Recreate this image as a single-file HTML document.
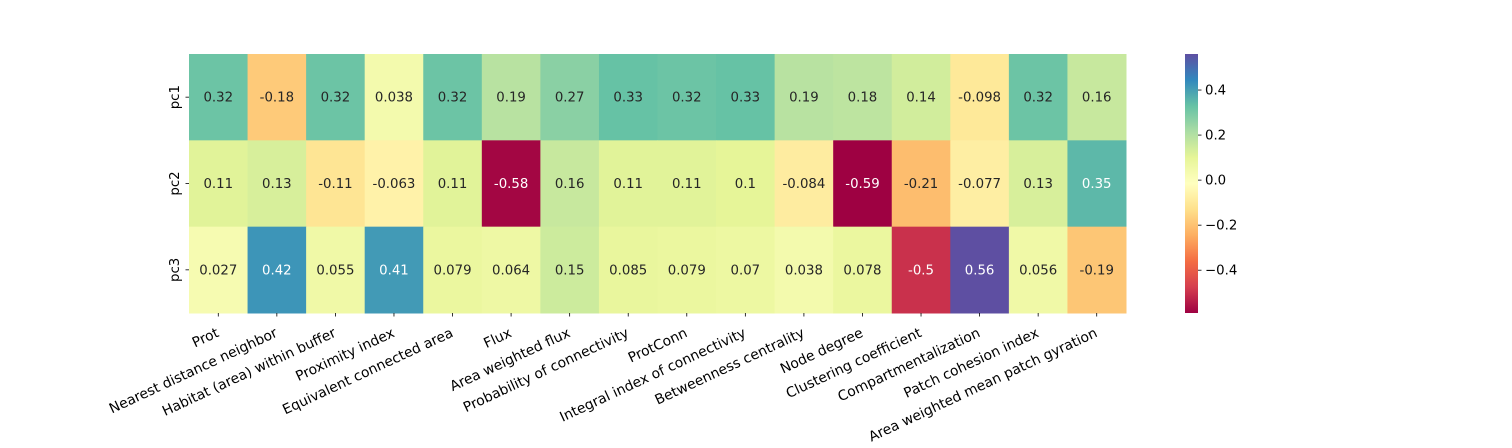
<!DOCTYPE html>
<html><head><meta charset="utf-8"><style>
body{margin:0;background:#fff;}
svg{display:block;font-family:"DejaVu Sans","Liberation Sans",sans-serif;}
</style></head><body>
<svg id="chart" width="1512" height="448"></svg>
<script>
const features = ["Prot","Nearest distance neighbor","Habitat (area) within buffer","Proximity index","Equivalent connected area","Flux","Area weighted flux","Probability of connectivity","ProtConn","Integral index of connectivity","Betweenness centrality","Node degree","Clustering coefficient","Compartmentalization","Patch cohesion index","Area weighted mean patch gyration"];
const components = ["pc1","pc2","pc3"];
const pc1 = [0.32,-0.18,0.32,0.038,0.32,0.19,0.27,0.33,0.32,0.33,0.19,0.18,0.14,-0.098,0.32,0.16];
const pc2 = [0.11,0.13,-0.11,-0.063,0.11,-0.58,0.16,0.11,0.11,0.1,-0.084,-0.59,-0.21,-0.077,0.13,0.35];
const pc3 = [0.027,0.42,0.055,0.41,0.079,0.064,0.15,0.085,0.079,0.07,0.038,0.078,-0.5,0.56,0.056,-0.19];
const cbTicks = [0.4,0.2,0.0,-0.2,-0.4];
const rows = [pc1,pc2,pc3];

const NS="http://www.w3.org/2000/svg";
const svg=document.getElementById('chart');
function mk(t,a){const e=document.createElementNS(NS,t);for(const k in a)e.setAttribute(k,a[k]);return e;}
const X0=189,X1=1126,Y0=54,Y1=313;
const cw=(X1-X0)/features.length, rh=(Y1-Y0)/components.length;
const all=rows.flat();
const vmin=Math.min(...all), vmax=Math.max(...all);
const stops=["#9e0142","#d53e4f","#f46d43","#fdae61","#fee08b","#ffffbf","#e6f598","#abdda4","#66c2a5","#3288bd","#5e4fa2"].map(h=>[parseInt(h.substr(1,2),16),parseInt(h.substr(3,2),16),parseInt(h.substr(5,2),16)]);
function cmap(v){let t=(v-vmin)/(vmax-vmin);t=Math.max(0,Math.min(1,t));const p=t*10,i=Math.min(9,Math.floor(p)),f=p-i;
 return stops[i].map((c,k)=>Math.round(c+(stops[i+1][k]-c)*f));}
function lum(c){const l=c.map(x=>{x/=255;return x<=0.03928?x/12.92:Math.pow((x+0.055)/1.055,2.4);});return 0.2126*l[0]+0.7152*l[1]+0.0722*l[2];}
function fmt(v){return String(Number(v.toPrecision(2)));}
const xs=i=>X0+i*cw, ys=j=>Y0+j*rh;
rows.forEach((r,j)=>r.forEach((v,i)=>{
 const c=cmap(v);
 const rect=mk('rect',{x:xs(i),y:ys(j),width:cw+0.5,height:rh+0.5,fill:`rgb(${c})`});
 
 
 svg.appendChild(rect);
 const t=mk('text',{x:xs(i)+cw/2,y:ys(j)+rh/2+4.5,'text-anchor':'middle','font-size':13.3,fill:lum(c)<0.408?'#fff':'#262626'});
 t.textContent=fmt(v);
 
 
 svg.appendChild(t);
}));
features.forEach((f,i)=>{
 const cx=xs(i)+cw/2;
 svg.appendChild(mk('line',{x1:cx,x2:cx,y1:Y1,y2:Y1+3.5,stroke:'#000','stroke-width':0.8}));
 const ax=cx+1.5, ay=336;
 const t=mk('text',{x:ax,y:ay,'text-anchor':'end','font-size':13.9,fill:'#000',transform:`rotate(-25 ${ax} ${ay})`});
 t.textContent=f;
 
 
 svg.appendChild(t);
});
components.forEach((p,j)=>{
 const cy=ys(j)+rh/2;
 svg.appendChild(mk('line',{x1:X0-3.5,x2:X0,y1:cy,y2:cy,stroke:'#000','stroke-width':0.8}));
 const t=mk('text',{x:179,y:cy,'text-anchor':'middle','font-size':13.3,fill:'#000',transform:`rotate(-90 179 ${cy})`});
 t.textContent=p;
 
 
 svg.appendChild(t);
});
const CX=1185,CW=13;
const defs=mk('defs',{});const g=mk('linearGradient',{id:'cb',x1:0,y1:1,x2:0,y2:0});
for(let k=0;k<=20;k++){const c=cmap(vmin+(vmax-vmin)*k/20);g.appendChild(mk('stop',{offset:k/20,'stop-color':`rgb(${c})`}));}
defs.appendChild(g);svg.appendChild(defs);
const cb=mk('rect',{x:CX,y:Y0,width:CW,height:Y1-Y0,fill:'url(#cb)'});


svg.appendChild(cb);
const cy=v=>Y1-(v-vmin)/(vmax-vmin)*(Y1-Y0);
cbTicks.forEach(v=>{
 const y=cy(v);
 svg.appendChild(mk('line',{x1:CX+CW,x2:CX+CW+3.5,y1:y,y2:y,stroke:'#000','stroke-width':0.8}));
 const t=mk('text',{x:CX+CW+7,y:y+4.5,'font-size':13.3,fill:'#000'});
 t.textContent=(v<0?'\u2212':'')+Math.abs(v).toFixed(1);
 
 
 svg.appendChild(t);
});
</script>
</body></html>
